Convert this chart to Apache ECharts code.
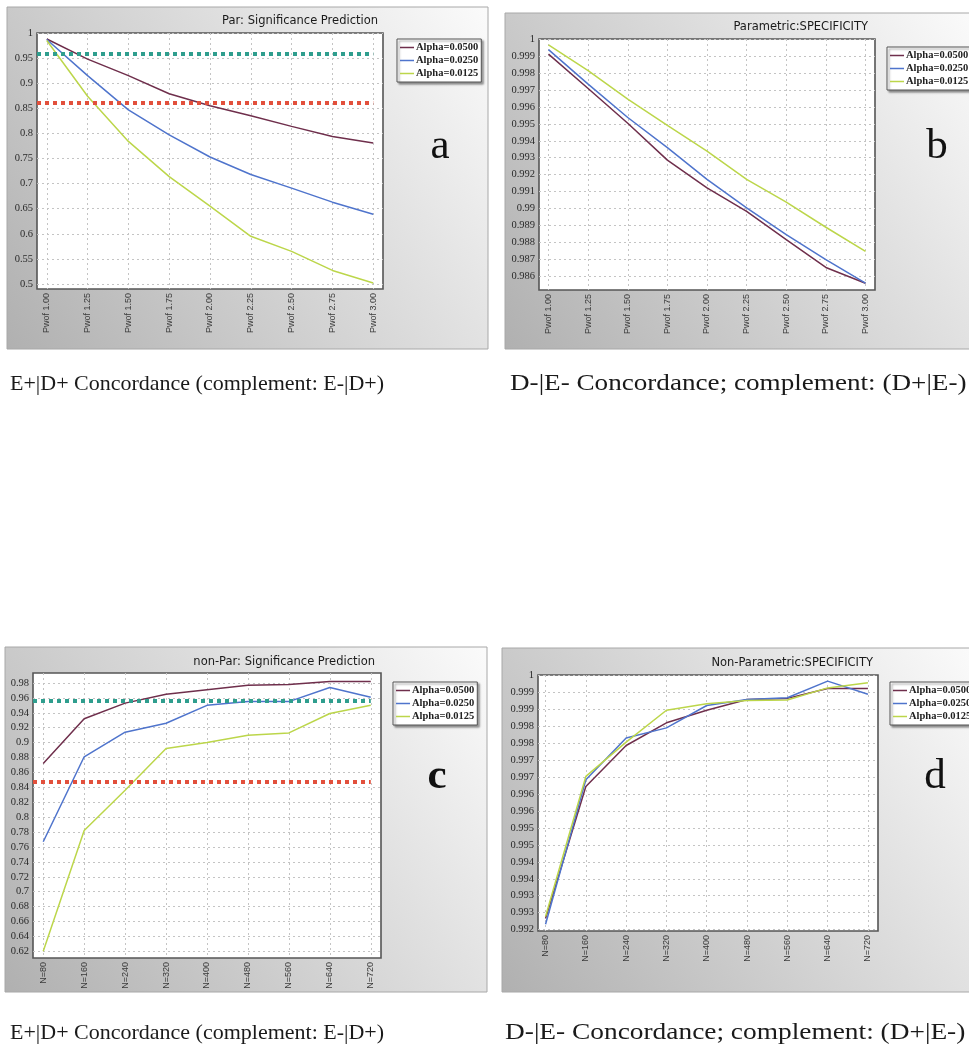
<!DOCTYPE html>
<html>
<head>
<meta charset="utf-8">
<script src="https://cdn.jsdelivr.net/npm/echarts@6/dist/echarts.min.js"></script>
<style>
html,body{margin:0;padding:0;background:#fff;}
#main{width:969px;height:1052px;}
</style>
</head>
<body>
<div id="main"></div>
<script>
// ---------- data ----------
const pwofValues = [1.00, 1.25, 1.50, 1.75, 2.00, 2.25, 2.50, 2.75, 3.00];
const pwofLabels = ['Pwof 1.00','Pwof 1.25','Pwof 1.50','Pwof 1.75','Pwof 2.00','Pwof 2.25','Pwof 2.50','Pwof 2.75','Pwof 3.00'];
const nValues = [80, 160, 240, 320, 400, 480, 560, 640, 720];
const nLabels = ['N=80','N=160','N=240','N=320','N=400','N=480','N=560','N=640','N=720'];
const seriesNames = ['Alpha=0.0500','Alpha=0.0250','Alpha=0.0125'];

// a: Par: Significance Prediction
const parSig0500  = [0.988, 0.948, 0.915, 0.879, 0.855, 0.835, 0.814, 0.794, 0.781];
const parSig0250  = [0.987, 0.915, 0.847, 0.797, 0.753, 0.718, 0.691, 0.663, 0.639];
const parSig0125  = [0.985, 0.874, 0.784, 0.714, 0.655, 0.595, 0.565, 0.527, 0.502];
const parSigThresholds = [0.958, 0.861];

// b: Parametric: SPECIFICITY
const parSpec0500 = [0.99911, 0.99708, 0.99503, 0.99286, 0.99122, 0.98984, 0.98817, 0.98653, 0.98560];
const parSpec0250 = [0.99937, 0.99734, 0.99537, 0.99359, 0.99172, 0.99004, 0.98846, 0.98699, 0.98560];
const parSpec0125 = [0.99965, 0.99813, 0.99645, 0.99491, 0.99339, 0.99172, 0.99038, 0.98890, 0.98748];

// c: non-Par: Significance Prediction
const npSig0500 = [0.872, 0.932, 0.953, 0.965, 0.971, 0.977, 0.978, 0.982, 0.982];
const npSig0250 = [0.767, 0.881, 0.914, 0.926, 0.950, 0.955, 0.955, 0.974, 0.961];
const npSig0125 = [0.620, 0.782, 0.836, 0.892, 0.900, 0.910, 0.913, 0.939, 0.950];
const npSigThresholds = [0.956, 0.847];

// d: Non-Parametric: SPECIFICITY
const npSpec0500 = [0.99283, 0.99672, 0.99793, 0.99860, 0.99897, 0.99929, 0.99932, 0.99961, 0.99961];
const npSpec0250 = [0.99266, 0.99692, 0.99815, 0.99845, 0.99911, 0.99929, 0.99934, 0.99983, 0.99944];
const npSpec0125 = [0.99289, 0.99702, 0.99803, 0.99897, 0.99916, 0.99926, 0.99927, 0.99963, 0.99978];

// tick values / labels
const yTicksA = [0.5,0.55,0.6,0.65,0.7,0.75,0.8,0.85,0.9,0.95,1];
const yLabelsA = ['0.5','0.55','0.6','0.65','0.7','0.75','0.8','0.85','0.9','0.95','1'];
const yTicksB = [0.986,0.987,0.988,0.989,0.99,0.991,0.992,0.993,0.994,0.995,0.996,0.997,0.998,0.999,1];
const yLabelsB = ['0.986','0.987','0.988','0.989','0.99','0.991','0.992','0.993','0.994','0.995','0.996','0.997','0.998','0.999','1'];
const yTicksC = [0.62,0.64,0.66,0.68,0.7,0.72,0.74,0.76,0.78,0.8,0.82,0.84,0.86,0.88,0.9,0.92,0.94,0.96,0.98];
const yLabelsC = ['0.62','0.64','0.66','0.68','0.7','0.72','0.74','0.76','0.78','0.8','0.82','0.84','0.86','0.88','0.9','0.92','0.94','0.96','0.98'];
const yTicksD = [0.9925,0.993,0.9935,0.994,0.9945,0.995,0.9955,0.996,0.9965,0.997,0.9975,0.998,0.9985,0.999,0.9995,1];
const yLabelsD = ['0.992','0.993','0.993','0.994','0.994','0.995','0.995','0.996','0.996','0.997','0.997','0.998','0.998','0.999','0.999','1'];

const titles = ['Par: Significance Prediction','Parametric:SPECIFICITY','non-Par: Significance Prediction','Non-Parametric:SPECIFICITY'];
const letters = ['a','b','c','d'];
const captionTop = 'E+|D+ Concordance (complement: E-|D+)';
const captionRight = 'D-|E- Concordance; complement: (D+|E-)';

// ---------- styles / layout ----------
const colors = ['#6f2f4c', '#4f74cc', '#bcd64a'];
const tealColor = '#2f9e8e', redColor = '#e2503c';
const panels = [
  {bg:[7,7,481,342], grid:{left:37,top:33,width:346,height:256}, x:[0.94,3.06], y:[0.49,1.0],
   xv:pwofValues, xl:pwofLabels, yt:yTicksA, yl:yLabelsA, data:[parSig0500,parSig0250,parSig0125], thr:parSigThresholds,
   title:{right:591,top:15}, legend:{left:397,top:39}, letter:[440,147]},
  {bg:[505,13,470,336], grid:{left:539,top:39,width:336,height:251}, x:[0.94,3.06], y:[0.9852,1.0],
   xv:pwofValues, xl:pwofLabels, yt:yTicksB, yl:yLabelsB, data:[parSpec0500,parSpec0250,parSpec0125], thr:null,
   title:{right:101,top:21}, legend:{left:887,top:47}, letter:[937,147]},
  {bg:[5,647,482,345], grid:{left:33,top:673,width:348,height:285}, x:[60,740], y:[0.611,0.9934],
   xv:nValues, xl:nLabels, yt:yTicksC, yl:yLabelsC, data:[npSig0500,npSig0250,npSig0125], thr:npSigThresholds,
   title:{right:594,top:656}, legend:{left:393,top:682}, letter:[437,777]},
  {bg:[502,648,473,344], grid:{left:538,top:675,width:340,height:256}, x:[65,740], y:[0.99246,1.00001],
   xv:nValues, xl:nLabels, yt:yTicksD, yl:yLabelsD, data:[npSpec0500,npSpec0250,npSpec0125], thr:null,
   title:{right:96,top:657}, legend:{left:890,top:682}, letter:[935,777]}
];

const option = {animation:false, grid:[], xAxis:[], yAxis:[], series:[], title:[], legend:[], graphic:[]};

panels.forEach((p, i) => {
  option.graphic.push({type:'rect', z:-10, shape:{x:p.bg[0],y:p.bg[1],width:p.bg[2],height:p.bg[3]},
    style:{fill:new echarts.graphic.LinearGradient(0,1,1,0,[{offset:0,color:'#b0b0b0'},{offset:0.45,color:'#d2d2d2'},{offset:1,color:'#fbfbfb'}]), stroke:'#a8a8a8', lineWidth:1}});
  option.graphic.push({type:'text', x:p.letter[0], y:p.letter[1], z:10,
    style:{text:letters[i], font:(i===2?'bold ':'')+'43px "Liberation Serif"', fill:'#111', align:'center', verticalAlign:'middle'}});
  option.grid.push(Object.assign({show:true, backgroundColor:'#ffffff', borderColor:'#555', borderWidth:1.6}, p.grid));
  option.xAxis.push({type:'value', gridIndex:i, min:p.x[0], max:p.x[1],
    axisLine:{show:false}, axisTick:{show:false, customValues:p.xv},
    splitLine:{show:true, lineStyle:{color:'#c4c4c4', type:[2,3], width:1}},
    axisLabel:{customValues:p.xv, rotate:90, margin:4, fontFamily:'Liberation Sans', fontSize:9, color:'#3a3a3a',
      formatter:(v)=>{const k=p.xv.indexOf(v); return k>=0?p.xl[k]:'';}}});
  option.yAxis.push({type:'value', gridIndex:i, min:p.y[0], max:p.y[1],
    axisLine:{show:false}, axisTick:{show:false, customValues:p.yt},
    splitLine:{show:true, lineStyle:{color:'#c4c4c4', type:[2,3], width:1}},
    axisLabel:{customValues:p.yt, margin:4, fontFamily:'Liberation Serif', fontSize:10.5, color:'#2a2a2a',
      formatter:(v)=>{let k=-1; p.yt.forEach((t,j)=>{if(Math.abs(t-v)<1e-9)k=j;}); return k>=0?p.yl[k]:'';}}});
  option.title.push({text:titles[i], right:p.title.right, top:p.title.top, padding:0,
    textStyle:{fontFamily:'DejaVu Sans', fontSize:11.5, fontWeight:'normal', color:'#1a1a1a'}});
  option.legend.push({data:seriesNames, orient:'vertical', left:p.legend.left, top:p.legend.top,
    icon:'rect', itemWidth:14, itemHeight:1.5, itemGap:2, padding:[3,3,3,3],
    backgroundColor:'#ffffff', borderColor:'#555', borderWidth:1,
    shadowColor:'rgba(0,0,0,0.4)', shadowBlur:2, shadowOffsetX:2, shadowOffsetY:2,
    selectedMode:false, textStyle:{fontFamily:'Liberation Serif', fontSize:10.5, fontWeight:'bold', color:'#222', padding:[0,0,0,-3]}});
  p.data.forEach((ys, s) => {
    const ser = {name:seriesNames[s], type:'line', xAxisIndex:i, yAxisIndex:i, symbol:'none',
      data:p.xv.map((x,k)=>[x, ys[k]]), lineStyle:{width:1.5, color:colors[s]}, itemStyle:{color:colors[s]}, z:3};
    if (s === 0 && p.thr) {
      ser.markLine = {silent:true, symbol:['none','none'], label:{show:false}, animation:false,
        data:p.thr.map((t,j)=>[{coord:[p.x[0], t], lineStyle:{color:j===0?tealColor:redColor, width:4, type:[4,4]}},
                               {coord:[p.xv[p.xv.length-1], t]}])};
    }
    option.series.push(ser);
  });
});

// captions
[[10,384,captionTop,22,1],[510,384,captionRight,23,1.18],[10,1033,captionTop,22,1],[505,1033,captionRight,23,1.19]].forEach(c => {
  option.graphic.push({type:'text', x:c[0], y:c[1], scaleX:c[4], originX:0,
    style:{text:c[2], font:c[3]+'px "Liberation Serif"', fill:'#1a1a1a', verticalAlign:'middle'}});
});

const chart = echarts.init(document.getElementById('main'), null, {renderer:'canvas'});
chart.setOption(option);
</script>
</body>
</html>
